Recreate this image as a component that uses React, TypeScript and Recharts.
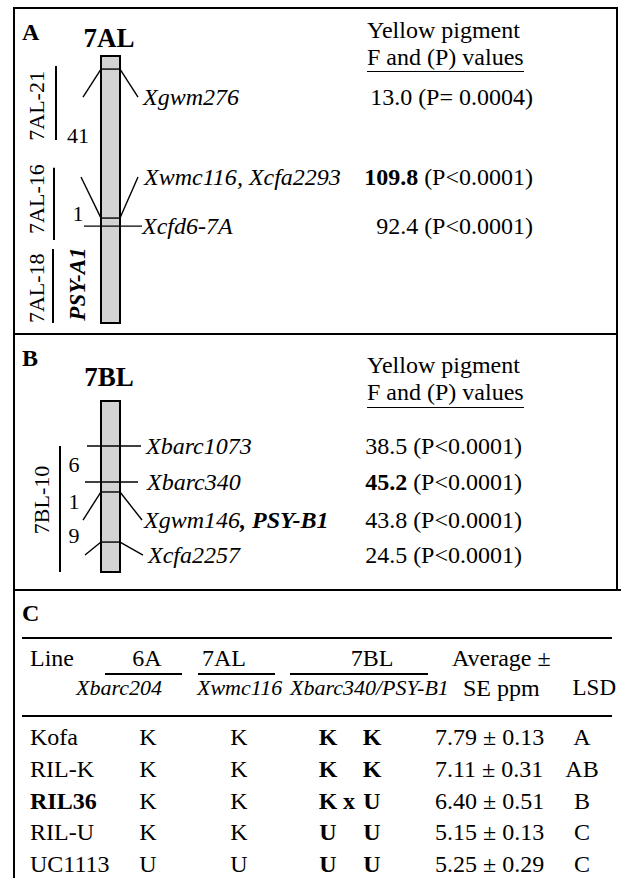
import React from "react";
import { ComposedChart, XAxis, YAxis, ReferenceArea, ReferenceLine, Scatter } from "recharts";

const FONT = '"Liberation Serif", "Times New Roman", Times, serif';

// Panel A, 7AL. Positions run along the chromosome: 0 = top end, 100 = bottom end
const aMarkers = ["Xgwm276", "Xwmc116, Xcfa2293", "Xcfd6-7A"];
const aMarkerPos = [4.9, 60.7, 63.7];
const aLabelPos = [15.4, 45.3, 63.7];
const aF = ["13.0", "109.8", "92.4"];
const aP = ["(P= 0.0004)", "(P<0.0001)", "(P<0.0001)"];
const aBins = ["7AL-21", "7AL-16", "7AL-18"];
const aBinFrom = [3.7, 41.9, 72.3];
const aBinTo = [31.5, 68.9, 100];
const aBinLabelPos = [18.7, 53.6, 87.0];
const aGaps = ["41", "1"];
const aGapPos = [30, 59.2];
const aGenes = ["PSY-A1"];
const aGenePos = [85.4];

// Panel B, 7BL
const bMarkers = ["Xbarc1073", "Xbarc340", "Xgwm146, PSY-B1", "Xcfa2257"];
const bMarkerPos = [26.3, 47.4, 53.2, 82.5];
const bLabelPos = [26.3, 47.4, 69.6, 90.1];
const bF = ["38.5", "45.2", "43.8", "24.5"];
const bP = ["(P<0.0001)", "(P<0.0001)", "(P<0.0001)", "(P<0.0001)"];
const bBins = ["7BL-10"];
const bBinFrom = [26.3];
const bBinTo = [100];
const bBinLabelPos = [57.9];
const bGaps = ["6", "1", "9"];
const bGapPos = [37.4, 59.1, 78.9];

// Panel C, genotypes and pigment
const lines = ["Kofa", "RIL-K", "RIL36", "RIL-U", "UC1113"];
const g6A = ["K", "K", "K", "K", "U"];
const g7AL = ["K", "K", "K", "K", "U"];
const g7BLbarc = ["K", "K", "K", "U", "U"];
const g7BLpsy = ["K", "K", "U", "U", "U"];
const avg = ["7.79", "7.11", "6.40", "5.15", "5.25"];
const se = ["0.13", "0.31", "0.51", "0.13", "0.29"];
const lsd = ["A", "AB", "B", "C", "C"];

const panelA = {
  letter: "A", chrom: "7AL", top: 8, height: 326, mTop: 48, mBottom: 11,
  markers: aMarkers, pos: aMarkerPos, labelPos: aLabelPos, f: aF, p: aP,
  bins: aBins, binFrom: aBinFrom, binTo: aBinTo, binLabelPos: aBinLabelPos,
  gaps: aGaps, gapPos: aGapPos, genes: aGenes, genePos: aGenePos,
  // layout
  labelX: [129, 130, 128], fanL: [69, 67, 70], fanR: [124, 124, 128],
  binX: [42, 40, 39], binLabelX: 23, gapX: 64, geneX: 64, fEnd: 519,
  letterY: 32, chromY: 38, headY: 30, headGap: 27, ulPad: 3,
};

const panelB = {
  letter: "B", chrom: "7BL", top: 334, height: 256, mTop: 67, mBottom: 18,
  markers: bMarkers, pos: bMarkerPos, labelPos: bLabelPos, f: bF, p: bP,
  bins: bBins, binFrom: bBinFrom, binTo: bBinTo, binLabelPos: bBinLabelPos,
  gaps: bGaps, gapPos: bGapPos, genes: [] as string[], genePos: [] as number[],
  labelX: [132, 133, 130, 134], fanL: [73, 71, 69, 71], fanR: [127, 124, 128, 129],
  binX: [46], binLabelX: 28, gapX: 60, geneX: 0, fEnd: 508,
  letterY: 358, chromY: 377, headY: 365, headGap: 27, ulPad: 4,
};

const CH_X1 = 87;
const CH_X2 = 106;

function markerShape(props: any) {
  const parts = String(props.payload.name).split(", ");
  return (
    <text x={props.cx} y={props.cy} dy="0.32em" fontFamily={FONT} fontSize={24} fontStyle="italic">
      {parts.map((s, i) => (
        <tspan key={i} fontWeight={s.startsWith("PSY") ? "bold" : "normal"}>
          {(i > 0 ? ", " : "") + s}
        </tspan>
      ))}
    </text>
  );
}

function fShape(props: any) {
  const d = props.payload;
  return (
    <text x={props.cx} y={props.cy} dy="0.32em" textAnchor="end" fontFamily={FONT} fontSize={24}>
      <tspan fontWeight={d.best ? "bold" : "normal"}>{d.f}</tspan>
      <tspan> {d.pv}</tspan>
    </text>
  );
}

function gapShape(props: any) {
  return (
    <text x={props.cx} y={props.cy} dy="0.32em" textAnchor="middle" fontFamily={FONT} fontSize={22}>
      {props.payload.name}
    </text>
  );
}

function binShape(props: any) {
  return (
    <text x={props.cx} y={props.cy} dy="0.32em" textAnchor="middle" fontFamily={FONT} fontSize={22}
      transform={`rotate(-90 ${props.cx} ${props.cy})`}>
      {props.payload.name}
    </text>
  );
}

function geneShape(props: any) {
  return (
    <text x={props.cx} y={props.cy} dy="0.32em" textAnchor="middle" fontFamily={FONT} fontSize={23}
      fontWeight="bold" fontStyle="italic" transform={`rotate(-90 ${props.cx} ${props.cy})`}>
      {props.payload.name}
    </text>
  );
}

function Txt({ x, y, a = "start", size = 24, style, children }: any) {
  const shift = a === "middle" ? "-50%" : a === "end" ? "-100%" : "0";
  return (
    <div style={{
      position: "absolute", left: x, top: y - 11, lineHeight: "22px", fontSize: size,
      whiteSpace: "nowrap", transform: `translateX(${shift})`, ...style,
    }}>
      {children}
    </div>
  );
}

function Rule({ x1, x2, y, h = 2 }: any) {
  return <div style={{ position: "absolute", left: x1, top: y, width: x2 - x1, height: h, background: "#000" }} />;
}

function MapPanel({ c }: { c: typeof panelA }) {
  const maxF = Math.max(...c.f.map(Number));
  const markerData = c.markers.map((name, i) => ({ x: c.labelX[i], y: c.labelPos[i], name }));
  const fData = c.f.map((f, i) => ({ x: c.fEnd, y: c.labelPos[i], f, pv: c.p[i], best: Number(f) === maxF }));
  const gapData = c.gaps.map((name, i) => ({ x: c.gapX, y: c.gapPos[i], name }));
  const binData = c.bins.map((name, i) => ({ x: c.binLabelX, y: c.binLabelPos[i], name }));
  const geneData = c.genes.map((name, i) => ({ x: c.geneX, y: c.genePos[i], name }));

  return (
    <>
      <Txt x={22} y={c.letterY} size={24} style={{ fontWeight: "bold" }}>{c.letter}</Txt>
      <Txt x={109} y={c.chromY} a="middle" size={27} style={{ fontWeight: "bold" }}>{c.chrom}</Txt>
      <Txt x={367} y={c.headY}>Yellow pigment</Txt>
      <Txt x={367} y={c.headY + c.headGap}
        style={{ borderBottom: "1.5px solid #000", paddingBottom: c.ulPad }}>
        F and (P) values
      </Txt>
      <div style={{ position: "absolute", left: 14, top: c.top }}>
        <ComposedChart width={603} height={c.height} margin={{ top: c.mTop, right: 0, bottom: c.mBottom, left: 0 }}>
          <XAxis type="number" dataKey="x" domain={[0, 603]} hide />
          <YAxis type="number" dataKey="y" domain={[0, 100]} reversed hide />
          <ReferenceArea x1={CH_X1} x2={CH_X2} y1={0} y2={100} fill="#d3d3d3" fillOpacity={1}
            stroke="#000" strokeWidth={2} />
          {c.bins.map((b, i) => (
            <ReferenceLine key={"bin" + b} segment={[{ x: c.binX[i], y: c.binFrom[i] }, { x: c.binX[i], y: c.binTo[i] }]}
              stroke="#000" strokeWidth={2} />
          ))}
          {c.markers.map((m, i) => {
            const fan = c.labelPos[i] !== c.pos[i];
            if (!fan) {
              return (
                <ReferenceLine key={"m" + m} segment={[{ x: c.fanL[i], y: c.pos[i] }, { x: c.fanR[i], y: c.pos[i] }]}
                  stroke="#000" strokeWidth={1.4} />
              );
            }
            return [
              <ReferenceLine key={"b" + m} segment={[{ x: CH_X1, y: c.pos[i] }, { x: CH_X2, y: c.pos[i] }]}
                stroke="#000" strokeWidth={1.4} />,
              <ReferenceLine key={"l" + m} segment={[{ x: CH_X1, y: c.pos[i] }, { x: c.fanL[i], y: c.labelPos[i] }]}
                stroke="#000" strokeWidth={1.4} />,
              <ReferenceLine key={"r" + m} segment={[{ x: CH_X2, y: c.pos[i] }, { x: c.fanR[i], y: c.labelPos[i] }]}
                stroke="#000" strokeWidth={1.4} />,
            ];
          })}
          <Scatter data={markerData} shape={markerShape} isAnimationActive={false} />
          <Scatter data={fData} shape={fShape} isAnimationActive={false} />
          <Scatter data={gapData} shape={gapShape} isAnimationActive={false} />
          <Scatter data={binData} shape={binShape} isAnimationActive={false} />
          {geneData.length > 0 && <Scatter data={geneData} shape={geneShape} isAnimationActive={false} />}
        </ComposedChart>
      </div>
    </>
  );
}

function TableC() {
  const rowY = (i: number) => 737 + i * 31.75;
  return (
    <>
      <Txt x={22} y={613} style={{ fontWeight: "bold" }}>C</Txt>
      <Rule x1={22} x2={612} y={637} />
      <Txt x={30} y={658}>Line</Txt>
      <Txt x={147} y={658} a="middle">6A</Txt>
      <Txt x={224} y={658} a="middle">7AL</Txt>
      <Txt x={372} y={658} a="middle">7BL</Txt>
      <Txt x={452} y={658}>Average ±</Txt>
      <Rule x1={105} x2={182} y={673} h={1.5} />
      <Rule x1={198} x2={275} y={673} h={1.5} />
      <Rule x1={290} x2={428} y={673} h={1.5} />
      <Txt x={76} y={688} size={22} style={{ fontStyle: "italic" }}>Xbarc204</Txt>
      <Txt x={197} y={688} size={22} style={{ fontStyle: "italic" }}>Xwmc116</Txt>
      <Txt x={290} y={688} size={22} style={{ fontStyle: "italic" }}>Xbarc340/PSY-B1</Txt>
      <Txt x={463} y={688}>SE ppm</Txt>
      <Txt x={616} y={688} a="end" size={23}>LSD</Txt>
      <Rule x1={22} x2={612} y={715} />
      {lines.map((name, i) => {
        const y = rowY(i);
        const split = g7BLbarc[i] !== g7BLpsy[i];
        return (
          <React.Fragment key={name}>
            <Txt x={30} y={y} style={{ fontWeight: split ? "bold" : "normal" }}>{name}</Txt>
            <Txt x={148} y={y} a="middle">{g6A[i]}</Txt>
            <Txt x={239} y={y} a="middle">{g7AL[i]}</Txt>
            <Txt x={328} y={y} a="middle" style={{ fontWeight: "bold" }}>{g7BLbarc[i]}</Txt>
            {split && <Txt x={349} y={y} a="middle" style={{ fontWeight: "bold" }}>x</Txt>}
            <Txt x={372} y={y} a="middle" style={{ fontWeight: "bold" }}>{g7BLpsy[i]}</Txt>
            <Txt x={435} y={y}>{avg[i]} ± {se[i]}</Txt>
            <Txt x={582} y={y} a="middle">{lsd[i]}</Txt>
          </React.Fragment>
        );
      })}
    </>
  );
}

export default function App() {
  return (
    <div style={{
      position: "absolute", left: 0, top: 0, width: 621, height: 878, overflow: "hidden",
      background: "#fff", color: "#000", fontFamily: FONT,
    }}>
      <MapPanel c={panelA} />
      <MapPanel c={panelB} />
      <TableC />
      <div style={{ position: "absolute", left: 13, top: 7, width: 605, height: 584, border: "2px solid #000", boxSizing: "border-box" }} />
      <Rule x1={13} x2={618} y={333} />
      <Rule x1={617} x2={621} y={589} />
      <div style={{ position: "absolute", left: 13, top: 590, width: 2, height: 300, background: "#000" }} />
    </div>
  );
}
